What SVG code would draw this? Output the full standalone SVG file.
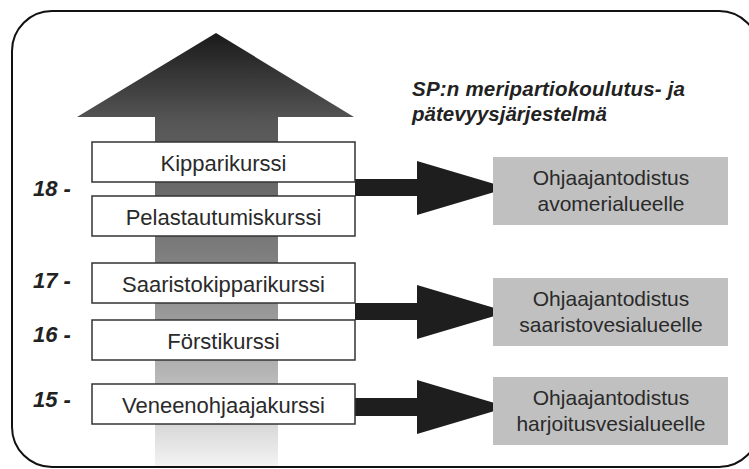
<svg xmlns="http://www.w3.org/2000/svg" width="749" height="469" viewBox="0 0 749 469">
  <defs>
    <linearGradient id="bigArrowGrad" x1="0" y1="33" x2="0" y2="467" gradientUnits="userSpaceOnUse">
      <stop offset="0" stop-color="#1a1a1a"/>
      <stop offset="0.2" stop-color="#555555"/>
      <stop offset="0.5" stop-color="#7c7c7c"/>
      <stop offset="0.78" stop-color="#b4b4b4"/>
      <stop offset="1" stop-color="#f4f4f4"/>
    </linearGradient>
    <style>
      .course { fill: #ffffff; stroke: #333333; stroke-width: 1.5; }
      .cert { fill: #c0c0c0; }
      .ctext { font-family: "Liberation Sans", Arial, sans-serif; font-size: 22px; fill: #2a2a2a; text-anchor: middle; }
      .gtext { font-family: "Liberation Sans", Arial, sans-serif; font-size: 21px; fill: #2a2a2a; text-anchor: middle; }
      .age { font-family: "Liberation Sans", Arial, sans-serif; font-size: 22px; font-weight: bold; font-style: italic; fill: #222222; }
      .title { font-family: "Liberation Sans", Arial, sans-serif; font-size: 20.5px; font-weight: bold; font-style: italic; fill: #222222; }
      .conn { fill: #1e1e1e; }
    </style>
  </defs>

  <rect id="frame" x="12" y="11" width="747" height="456" rx="40" ry="40" fill="#ffffff" stroke="#111111" stroke-width="2"/>

  <g id="progress-arrow">
    <polygon points="216,33 354,117 278,117 278,466 155,466 155,117 77,117" fill="url(#bigArrowGrad)"/>
  </g>

  <g id="title">
    <text class="title" x="412" y="96" textLength="273" lengthAdjust="spacing">SP:n meripartiokoulutus- ja</text>
    <text class="title" x="412" y="121">pätevyysjärjestelmä</text>
  </g>

  <g id="connectors">
    <polygon class="conn" points="355,179 417,179 417,161 508,188 417,215 417,196 355,196"/>
    <polygon class="conn" points="355,303 417,303 417,285 508,312 417,339 417,320 355,320"/>
    <polygon class="conn" points="355,398 417,398 417,380 508,407 417,434 417,416 355,416"/>
  </g>

  <g id="age-18"><text class="age" x="33" y="196">18 -</text></g>
  <g id="age-17"><text class="age" x="33" y="288">17 -</text></g>
  <g id="age-16"><text class="age" x="33" y="342">16 -</text></g>
  <g id="age-15"><text class="age" x="33" y="407">15 -</text></g>

  <g id="kipparikurssi">
    <rect class="course" x="92" y="142" width="263" height="40"/>
    <text class="ctext" x="223.5" y="171">Kipparikurssi</text>
  </g>
  <g id="pelastautumiskurssi">
    <rect class="course" x="92" y="196" width="263" height="40"/>
    <text class="ctext" x="223.5" y="225">Pelastautumiskurssi</text>
  </g>
  <g id="saaristokipparikurssi">
    <rect class="course" x="92" y="263" width="263" height="40"/>
    <text class="ctext" x="223.5" y="292">Saaristokipparikurssi</text>
  </g>
  <g id="forstikurssi">
    <rect class="course" x="92" y="320" width="263" height="40"/>
    <text class="ctext" x="223.5" y="349">Förstikurssi</text>
  </g>
  <g id="veneenohjaajakurssi">
    <rect class="course" x="92" y="384" width="263" height="40"/>
    <text class="ctext" x="223.5" y="413">Veneenohjaajakurssi</text>
  </g>

  <g id="cert-avomeri">
    <rect class="cert" x="493" y="157" width="235" height="68"/>
    <text class="gtext" x="611" y="185">Ohjaajantodistus</text>
    <text class="gtext" x="611" y="211">avomerialueelle</text>
  </g>
  <g id="cert-saaristo">
    <rect class="cert" x="493" y="278" width="235" height="68"/>
    <text class="gtext" x="611" y="306">Ohjaajantodistus</text>
    <text class="gtext" x="611" y="332">saaristovesialueelle</text>
  </g>
  <g id="cert-harjoitus">
    <rect class="cert" x="493" y="377" width="235" height="68"/>
    <text class="gtext" x="611" y="405">Ohjaajantodistus</text>
    <text class="gtext" x="611" y="431">harjoitusvesialueelle</text>
  </g>
</svg>
